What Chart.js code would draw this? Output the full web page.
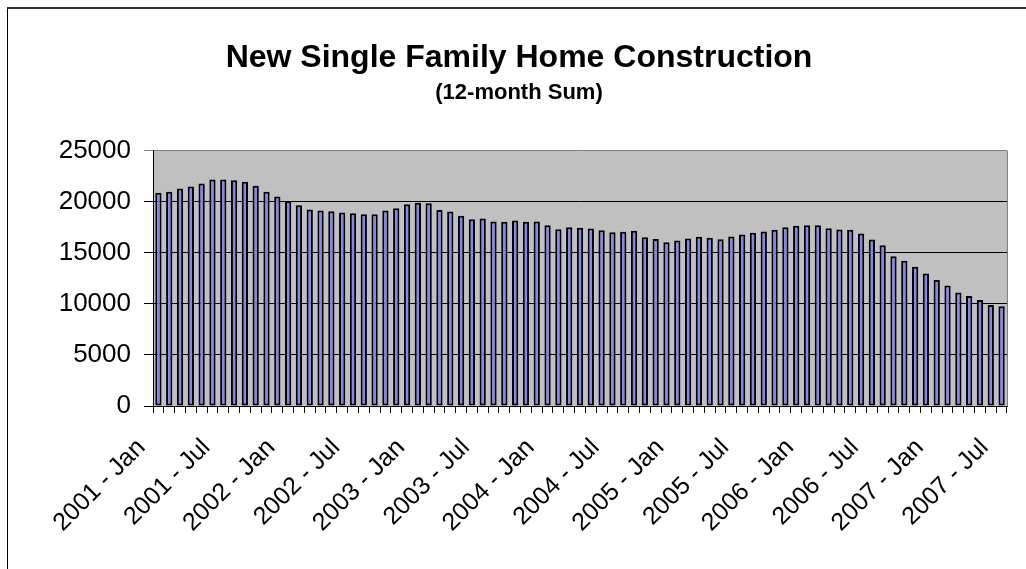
<!DOCTYPE html>
<html>
<head>
<meta charset="utf-8">
<script src="https://cdn.jsdelivr.net/npm/chart.js@4/dist/chart.umd.min.js"></script>
<style>
  html, body { margin: 0; padding: 0; background: #fff; }
  #c { display: block; }
</style>
</head>
<body>
<canvas id="c" width="1026" height="569"></canvas>
<script>
// ---- data ----
const years = ['2001', '2002', '2003', '2004', '2005', '2006', '2007'];
const months = ['Jan', 'Feb', 'Mar', 'Apr', 'May', 'Jun', 'Jul', 'Aug', 'Sep', 'Oct', 'Nov', 'Dec'];
const values2001 = [20900, 20980, 21300, 21500, 21800, 22190, 22190, 22120, 21960, 21570, 20980, 20520];
const values2002 = [20070, 19670, 19250, 19150, 19090, 18950, 18890, 18790, 18790, 19150, 19380, 19770];
const values2003 = [19900, 19870, 19200, 19050, 18630, 18300, 18370, 18070, 18040, 18170, 18040, 18070];
const values2004 = [17710, 17320, 17520, 17450, 17390, 17220, 17030, 17060, 17160, 16540, 16370, 16050];
const values2005 = [16210, 16400, 16570, 16470, 16340, 16600, 16800, 16960, 17090, 17260, 17520, 17650];
const values2006 = [17710, 17710, 17420, 17290, 17260, 16900, 16310, 15750, 14670, 14220, 13630, 12970];
const values2007 = [12350, 11800, 11110, 10780, 10390, 9900, 9770];
const yTicks = [0, 5000, 10000, 15000, 20000, 25000];

const seriesByYear = [values2001, values2002, values2003, values2004, values2005, values2006, values2007];
const categories = [];
const values = [];
seriesByYear.forEach((arr, yi) => {
  arr.forEach((v, mi) => {
    categories.push(years[yi] + ' - ' + months[mi]);
    values.push(v);
  });
});

const FONT = 'Arial, "Liberation Sans", Helvetica, sans-serif';

const decor = {
  id: 'decor',
  beforeDraw(chart) {
    const { ctx, chartArea: a } = chart;
    ctx.save();
    ctx.fillStyle = '#ffffff';
    ctx.fillRect(0, 0, chart.width, chart.height);
    // outer frame
    ctx.fillStyle = '#000000';
    ctx.fillRect(7, 7, 1, chart.height - 7);
    ctx.fillStyle = '#333333';
    ctx.fillRect(7, 7, chart.width - 7, 2);
    // plot background
    ctx.fillStyle = '#c0c0c0';
    ctx.fillRect(a.left, a.top, a.right - a.left, a.bottom - a.top);
    ctx.restore();
  },
  afterDraw(chart) {
    const { ctx, chartArea: a } = chart;
    ctx.save();
    ctx.strokeStyle = '#808080';
    ctx.lineWidth = 1;
    ctx.beginPath();
    ctx.moveTo(Math.round(a.right) + 0.5, a.top);
    ctx.lineTo(Math.round(a.right) + 0.5, a.bottom);
    ctx.stroke();
    ctx.restore();
  }
};

new Chart(document.getElementById('c'), {
  type: 'bar',
  data: {
    labels: categories,
    datasets: [{
      label: '12-month Sum',
      data: values,
      backgroundColor: '#8585f0',
      borderColor: '#000000',
      borderWidth: 2,
      borderSkipped: false,
      categoryPercentage: 1.0,
      barPercentage: 0.58
    }]
  },
  options: {
    responsive: false,
    animation: false,
    devicePixelRatio: 1,
    layout: { padding: { left: 31, right: 19, top: 0, bottom: 0 } },
    plugins: {
      legend: { display: false },
      tooltip: { enabled: false },
      title: {
        display: true,
        text: 'New Single Family Home Construction',
        color: '#000',
        font: { family: FONT, size: 32, weight: 'bold' },
        padding: { top: 39, bottom: 0 }
      },
      subtitle: {
        display: true,
        text: '(12-month Sum)',
        color: '#000',
        font: { family: FONT, size: 22, weight: 'bold' },
        padding: { top: 2, bottom: 45 }
      }
    },
    scales: {
      x: {
        offset: true,
        grid: {
          display: true,
          drawOnChartArea: false,
          drawTicks: true,
          tickLength: 7,
          color: '#000',
          offset: true
        },
        border: { display: true, color: '#000', width: 1 },
        ticks: {
          autoSkip: false,
          maxRotation: 45,
          minRotation: 45,
          padding: 20,
          labelOffset: -17,
          color: '#000',
          font: { family: FONT, size: 25 },
          callback: (v, i) => (i % 6 === 0 ? categories[i] : '')
        },
        afterFit: s => { s.height = 163; s.paddingLeft = 0; s.paddingRight = 0; }
      },
      y: {
        min: 0,
        max: 25000,
        afterBuildTicks: s => { s.ticks = yTicks.map(v => ({ value: v })); },
        grid: {
          color: ctx => (ctx.tick && ctx.tick.value === 25000 ? '#808080' : '#000'),
          lineWidth: 1,
          tickLength: 9,
          drawTicks: true
        },
        border: { display: true, color: '#000', width: 1 },
        ticks: {
          padding: 13,
          color: '#000',
          font: { family: FONT, size: 26 },
          callback: v => String(v)
        },
        afterFit: s => { s.width = 122; s.paddingTop = 0; s.paddingBottom = 0; }
      }
    }
  },
  plugins: [decor]
});
</script>
</body>
</html>
